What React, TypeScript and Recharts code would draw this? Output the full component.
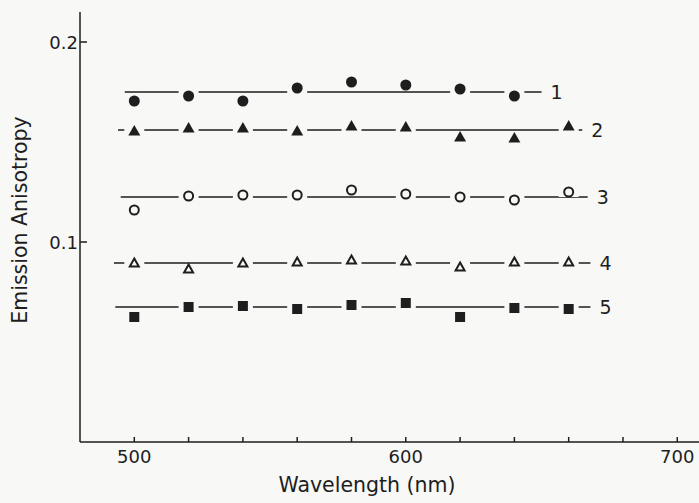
import React from "react";
import { ComposedChart, Line, Scatter, XAxis, YAxis, Label } from "recharts";

const wavelengths = [500, 520, 540, 560, 580, 600, 620, 640, 660];

// emission anisotropy read per curve (curve 1 stops at 640 nm)
const curve1 = [0.1705, 0.173, 0.1705, 0.177, 0.18, 0.1785, 0.1765, 0.173];
const curve2 = [0.1555, 0.157, 0.157, 0.1555, 0.158, 0.1575, 0.1525, 0.152, 0.158];
const curve3 = [0.116, 0.123, 0.1235, 0.1235, 0.126, 0.124, 0.1225, 0.121, 0.125];
const curve4 = [0.0895, 0.0865, 0.0895, 0.09, 0.091, 0.0905, 0.0875, 0.09, 0.09];
const curve5 = [0.0625, 0.0675, 0.068, 0.0665, 0.0685, 0.0695, 0.0625, 0.067, 0.0665];

// mean level lines and how far they run
const levels = [0.175, 0.156, 0.1225, 0.0895, 0.0675];
const lineStart = [496.5, 494, 495, 492.5, 493];
const lineEnd = [650, 665, 667, 668, 668];
const curveNames = ["1", "2", "3", "4", "5"];

const xTicks = [500, 520, 540, 560, 580, 600, 620, 640, 660, 680, 700];
const xLabelled = [500, 600, 700];
const yTicks = [0.1, 0.2];

const ink = "#1e1e1e";
const bg = "#f8f8f6";
const font = "DejaVu Sans, sans-serif";

const toPoints = (vals: number[]) => vals.map((v, i) => ({ x: wavelengths[i], y: v }));
const segment = (i: number) => [
  { x: lineStart[i], y: levels[i] },
  { x: lineEnd[i], y: levels[i] },
];

type Kind = "dot" | "ring" | "tri" | "triOpen" | "square";

const Marker = ({ cx, cy, kind }: { cx: number; cy: number; kind: Kind }) => {
  let mark: React.ReactNode = null;
  if (kind === "dot") mark = <circle cx={cx} cy={cy} r={5.5} fill={ink} />;
  if (kind === "ring")
    mark = <circle cx={cx} cy={cy} r={4.5} fill={bg} stroke={ink} strokeWidth={2} />;
  if (kind === "tri")
    mark = (
      <polygon
        points={`${cx},${cy - 6} ${cx + 6},${cy + 4.5} ${cx - 6},${cy + 4.5}`}
        fill={ink}
      />
    );
  if (kind === "triOpen")
    mark = (
      <polygon
        points={`${cx},${cy - 4.5} ${cx + 4.5},${cy + 3.5} ${cx - 4.5},${cy + 3.5}`}
        fill={bg}
        stroke={ink}
        strokeWidth={2}
      />
    );
  if (kind === "square") mark = <rect x={cx - 5} y={cy - 5} width={10} height={10} fill={ink} />;
  return (
    <g>
      <rect x={cx - 10} y={cy - 5} width={20} height={10} fill={bg} />
      {mark}
    </g>
  );
};

const XTick = ({ x, y, payload }: any) => (
  <g>
    <line x1={x} x2={x} y1={y} y2={y - 5} stroke={ink} strokeWidth={1.5} />
    {xLabelled.includes(payload.value) && (
      <text x={x} y={y + 21} textAnchor="middle" fontSize={18} fill={ink} fontFamily={font}>
        {payload.value}
      </text>
    )}
  </g>
);

const YTick = ({ x, y, payload }: any) => (
  <g>
    <line x1={x} x2={x + 7} y1={y} y2={y} stroke={ink} strokeWidth={1.5} />
    <text x={x - 2} y={y + 7} textAnchor="end" fontSize={18} fill={ink} fontFamily={font}>
      {payload.value}
    </text>
  </g>
);

const endLabel = (name: string) => (p: any) =>
  p.index === 1 ? (
    <text key={name} x={p.x + 9} y={p.y + 7} fontSize={19} fill={ink} fontFamily={font}>
      {name}
    </text>
  ) : null;

const curves: { data: number[]; kind: Kind }[] = [
  { data: curve1, kind: "dot" },
  { data: curve2, kind: "tri" },
  { data: curve3, kind: "ring" },
  { data: curve4, kind: "triOpen" },
  { data: curve5, kind: "square" },
];

export default function App() {
  return (
    <div style={{ position: "absolute", left: 0, top: 0, background: bg }}>
      <ComposedChart
        width={699}
        height={503}
        margin={{ top: 12, right: 0, bottom: 0, left: 0 }}
        style={{ background: bg }}
      >
        <XAxis
          dataKey="x"
          type="number"
          domain={[480, 708]}
          allowDataOverflow
          ticks={xTicks}
          interval={0}
          height={61}
          tickSize={0}
          tickMargin={0}
          tickLine={false}
          tick={<XTick />}
          axisLine={{ stroke: ink, strokeWidth: 1.5 }}
        >
          <Label
            content={({ viewBox }: any) => (
              <text
                x={367}
                y={viewBox.y + 50}
                textAnchor="middle"
                fontSize={20.5}
                fill={ink}
                fontFamily={font}
              >
                Wavelength (nm)
              </text>
            )}
          />
        </XAxis>
        <YAxis
          dataKey="y"
          type="number"
          domain={[0, 0.215]}
          allowDataOverflow
          ticks={yTicks}
          interval={0}
          width={80}
          tickSize={0}
          tickMargin={0}
          tickLine={false}
          tick={<YTick />}
          axisLine={{ stroke: ink, strokeWidth: 1.5 }}
        >
          <Label
            content={() => (
              <text
                x={27}
                y={220}
                transform={`rotate(-90 27 220)`}
                textAnchor="middle"
                fontSize={20.5}
                fill={ink}
                fontFamily={font}
              >
                Emission Anisotropy
              </text>
            )}
          />
        </YAxis>
        {curves.map((c, i) => (
          <Line
            key={`line${i}`}
            data={segment(i)}
            dataKey="y"
            stroke={ink}
            strokeWidth={1.5}
            dot={false}
            activeDot={false}
            isAnimationActive={false}
            label={endLabel(curveNames[i])}
          />
        ))}
        {curves.map((c, i) => (
          <Scatter
            key={`pts${i}`}
            data={toPoints(c.data)}
            dataKey="y"
            isAnimationActive={false}
            shape={(p: any) => <Marker cx={p.cx} cy={p.cy} kind={c.kind} />}
          />
        ))}
      </ComposedChart>
    </div>
  );
}
